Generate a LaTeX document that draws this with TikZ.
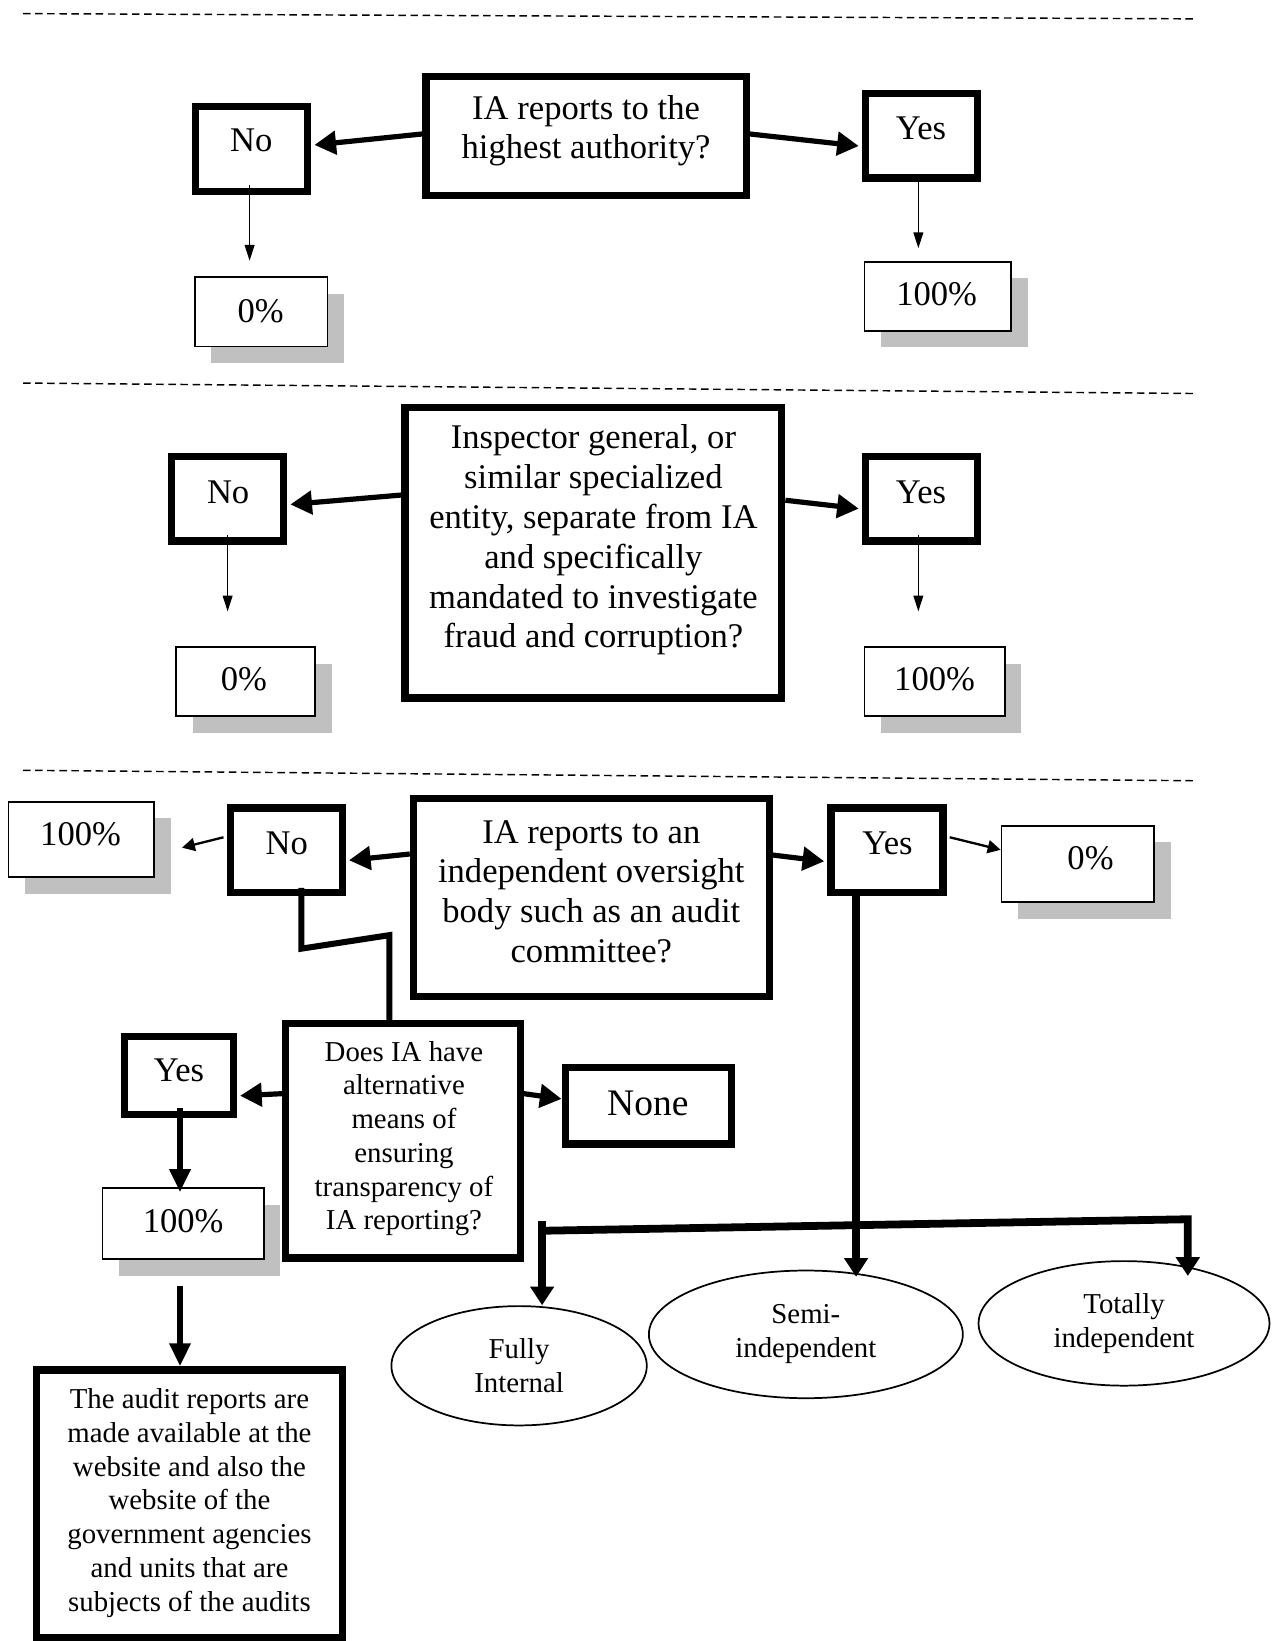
\documentclass[tikz,border=0pt]{standalone}
\usepackage{fontspec}
\setmainfont{Liberation Serif}
\usetikzlibrary{arrows.meta,shapes.geometric,fit,calc}
\definecolor{shadowgrey}{HTML}{C0C0C0}
\begin{document}
\begin{tikzpicture}[x=0.363pt,y=-0.363pt,
  thickbox/.style={draw, line width=2.5pt, inner sep=0pt, fill=white},
  thinbox/.style={draw, line width=0.6pt, fill=white, inner sep=0pt,
    preaction={fill=shadowgrey, draw=none, transform canvas={xshift=5.8pt,yshift=-5.8pt}}},
  txt/.style={align=center, font=\fontsize{12}{13.8}\selectfont, inner sep=0pt},
  smalltxt/.style={align=center, font=\fontsize{10}{11.7}\selectfont, inner sep=0pt},
  ell/.style={draw, ellipse, line width=0.6pt, inner sep=0pt, align=center, font=\fontsize{10}{11.7}\selectfont},
  dashline/.style={line width=0.5pt, dash pattern=on 2.6pt off 1.6pt},
  bigarrow/.style={line width=1.8pt, -{Triangle[length=7.5pt,width=8pt]}},
  medarrow/.style={line width=0.8pt, -{Triangle[length=4.5pt,width=4.5pt]}},
  thinarrow/.style={line width=0.5pt, -{Triangle[length=5.5pt,width=3.4pt]}},
  conn/.style={line width=2.1pt, line join=miter},
  downarrow/.style={line width=2pt, -{Triangle[length=8pt,width=7pt]}},
  bracketarrow/.style={line width=2.7pt, line join=miter, -{Triangle[length=6.5pt,width=8pt]}},
]
\useasboundingbox (0,0) rectangle (1220,1568);

% separators
\draw[dashline] (22,13) -- (1140,18);
\draw[dashline] (22,366) -- (1140,376);
\draw[dashline] (22,736) -- (1140,746);

% ---------- section 1
\node[thickbox, fit={(407,73) (713,187)}] (c1) {};
\node[txt] (c1t) at (560,125) {IA reports to the\\highest authority?};
\node[thickbox, fit={(187,102) (294,183)}] (no1) {};
\node[txt] (no1t) at (240,134) {No};
\node[thickbox, fit={(827,89) (934,170)}] (yes1) {};
\node[txt] (yes1t) at (880,123) {Yes};
\node[thinbox, fit={(186,265) (313,331)}] (z1) {};
\node[txt] (z1t) at (249,297) {0\%};
\node[thinbox, fit={(826,250) (966,316)}] (h1) {};
\node[txt] (h1t) at (895,281) {100\%};

\draw[bigarrow] ($(c1.west)+(0,-2)$) -- ($(no1.east)+(3,-4)$);
\draw[bigarrow] ($(c1.east)+(0,-2)$) -- ($(yes1.west)+(-3,10)$);
\draw[thinarrow] ($(no1.south)+(-2,-10)$) -- ($(no1.south |- z1.north)+(-2,-15)$);
\draw[thinarrow] ($(yes1.south)+(-3,-5)$) -- ($(yes1.south |- h1.north)+(-3,-12)$);

% ---------- section 2
\node[thickbox, fit={(387,389) (747,667)}] (c2) {};
\node[txt] (c2t) at (567,516) {Inspector general, or\\similar specialized\\entity, separate from IA\\and specifically\\mandated to investigate\\fraud and corruption?};
\node[thickbox, fit={(164,436) (271,517)}] (no2) {};
\node[txt] (no2t) at (218,470) {No};
\node[thickbox, fit={(827,436) (934,517)}] (yes2) {};
\node[txt] (yes2t) at (880,470) {Yes};
\node[thinbox, fit={(168,618) (301,684)}] (z2) {};
\node[txt] (z2t) at (233,649) {0\%};
\node[thinbox, fit={(826,618) (960,684)}] (h2) {};
\node[txt] (h2t) at (893,649) {100\%};

\draw[bigarrow] ($(c2.west)+(0,-55)$) -- ($(no2.east)+(3,5.5)$);
\draw[bigarrow] ($(c2.east)+(0,-50)$) -- ($(yes2.west)+(-3,9.5)$);
\draw[thinarrow] ($(no2.south)+(0,-9)$) -- ($(no2.south |- z2.north)+(0,-33)$);
\draw[thinarrow] ($(yes2.south)+(-3,-9)$) -- ($(yes2.south |- h2.north)+(-3,-33)$);

% ---------- section 3
\node[thickbox, fit={(395,763) (735,952)}] (c3) {};
\node[txt] (c3t) at (565,852) {IA reports to an\\independent oversight\\body such as an audit\\committee?};
\node[thickbox, fit={(220,772) (327,853)}] (no3) {};
\node[txt] (no3t) at (274,806) {No};
\node[thickbox, fit={(794,772) (901,853)}] (yes3) {};
\node[txt] (yes3t) at (848,806) {Yes};
\node[thinbox, fit={(8,766) (147,838)}] (l100) {};
\node[txt] (l100t) at (77,797) {100\%};
\node[thinbox, fit={(957,789) (1103,862)}] (r0) {};
\node[txt] (r0t) at (1042,820) {0\%};

\draw[bigarrow] ($(c3.west)+(0,-41.5)$) -- ($(no3.east)+(3,9.5)$);
\draw[bigarrow] ($(c3.east)+(0,-40.5)$) -- ($(yes3.west)+(-3,10.5)$);
\draw[medarrow] ($(no3.west)+(-3,-12.5)$) -- ($(l100.east)+(26,8)$);
\draw[medarrow] ($(yes3.east)+(3,-12.5)$) -- ($(r0.west)+(0,-13.5)$);

\node[thickbox, fit={(273,978) (497,1202)}] (does) {};
\node[smalltxt] (doest) at (386,1088) {Does IA have\\alternative\\means of\\ensuring\\transparency of\\IA reporting?};
\node[thickbox, fit={(119,990) (223,1065)}] (yesl) {};
\node[txt] (yeslt) at (171,1023) {Yes};
\node[thickbox, fit={(540,1020) (699,1093)}] (none) {};
\node[txt, font=\fontsize{13}{15}\selectfont] (nonet) at (619,1054) {None};
\node[thinbox, fit={(98,1135) (252,1203)}] (h3) {};
\node[txt] (h3t) at (175,1167) {100\%};
\node[thickbox, fit={(35,1309) (327,1565)}] (audit) {};
\node[smalltxt] (auditt) at (181,1436) {The audit reports are\\made available at the\\website and also the\\website of the\\government agencies\\and units that are\\subjects of the audits};

\draw[conn] ($(no3.south)+(14.5,-8)$) -- ++(0,58) -- ($(does.north)+(-13,-81)$) -- ($(does.north)+(-13,0)$);
\draw[bigarrow] ($(does.west)+(0,-45)$) -- ($(yesl.east)+(3,19.5)$);
\draw[bigarrow] ($(does.east)+(0,-45)$) -- ($(none.west)+(0,-6.5)$);
\draw[downarrow] ($(yesl.south)+(1,-10)$) -- ($(yesl.south |- h3.north)+(1,5)$);
\draw[downarrow] ($(yesl.south |- h3.south)+(1,25)$) -- ($(yesl.south |- audit.north)+(1,0)$);

% ellipses
\node[ell, minimum width=244*0.363pt, minimum height=114*0.363pt] (fully) at (496,1305) {Fully\\Internal};
\node[ell, minimum width=300*0.363pt, minimum height=122*0.363pt] (semi) at (770,1275) {Semi-\\independent};
\node[ell, minimum width=278*0.363pt, minimum height=119*0.363pt] (total) at (1074,1264.5) {Totally\\independent};

\coordinate (semitop) at (818,1220);
\draw[bracketarrow] ($(yes3.south)+(-29.5,-3)$) -- (semitop);
\coordinate (brL) at (518,1176);
\coordinate (brR) at (1135,1165);
\draw[bracketarrow] ($(brL)+(0,-9)$) -- (brL |- fully.north);
\draw[bracketarrow] (brL) -- (brR) -- ($(brR |- total.north)+(0,15)$);
\end{tikzpicture}
\end{document}
